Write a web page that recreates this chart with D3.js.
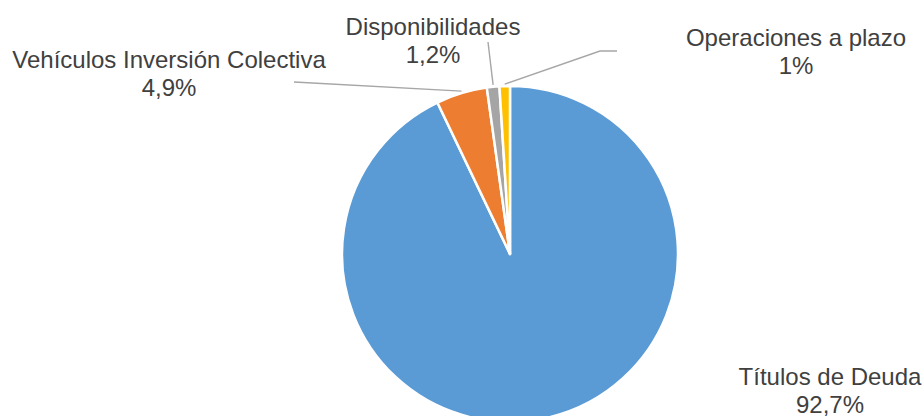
<!DOCTYPE html>
<html>
<head>
<meta charset="utf-8">
<script src="https://cdn.jsdelivr.net/npm/d3@7"></script>
<style>
  html, body { margin: 0; padding: 0; background: #fff; overflow: hidden; }
  svg { display: block; }
  text { font-family: "Liberation Sans", Arial, sans-serif; font-size: 24px; fill: #404040; }
</style>
</head>
<body>
<svg id="chart" width="923" height="416"></svg>
<script>
// Portfolio composition (percent of total)
const categories = ["Títulos de Deuda", "Vehículos Inversión Colectiva", "Disponibilidades", "Operaciones a plazo"];
const values = [92.7, 4.9, 1.2, 1];
const colors = ["#5B9BD5", "#ED7D31", "#A5A5A5", "#FFC000"];

// Label placement: text centre, first baseline, and leader-line route (null = no leader)
const labelLayout = [
  { x: 830, y: 385, leader: null },
  { x: 169, y: 68, leader: [[294, 82]] },
  { x: 433, y: 35, leader: [[488, 42]] },
  { x: 796, y: 46, leader: [[600, 51], [617, 51]] }
];

const width = 923, height = 416;
const cx = 510, cy = 254, radius = 168;
const lineGap = 28;

const svg = d3.select("#chart");
const g = svg.append("g").attr("transform", `translate(${cx},${cy})`);

const pie = d3.pie().sort(null).value(d => d.value);
const data = categories.map((c, i) => ({ name: c, value: values[i], color: colors[i], layout: labelLayout[i] }));
const arcs = pie(data);

const arc = d3.arc().innerRadius(0).outerRadius(radius);
const edge = d3.arc().innerRadius(radius).outerRadius(radius);

// Slices
g.selectAll("path.slice")
  .data(arcs)
  .join("path")
  .attr("class", "slice")
  .attr("d", arc)
  .attr("fill", d => d.data.color)
  .attr("stroke", "#fff")
  .attr("stroke-width", 2.5)
  .attr("stroke-linejoin", "round");

// Leader lines from the slice edge to the label
const fmt = v => String(v).replace(".", ",") + "%";

arcs.forEach(d => {
  const L = d.data.layout;
  if (L.leader) {
    const [ex, ey] = edge.centroid(d);
    const pts = [[cx + ex, cy + ey - 2], ...L.leader];
    svg.append("path")
      .attr("d", d3.line()(pts))
      .attr("fill", "none")
      .attr("stroke", "#A6A6A6")
      .attr("stroke-width", 1.4);
  }
  const t = svg.append("text")
    .attr("x", L.x)
    .attr("y", L.y)
    .attr("text-anchor", "middle");
  t.append("tspan").attr("x", L.x).text(d.data.name);
  t.append("tspan").attr("x", L.x).attr("dy", lineGap).text(fmt(d.data.value));
});
</script>
</body>
</html>
